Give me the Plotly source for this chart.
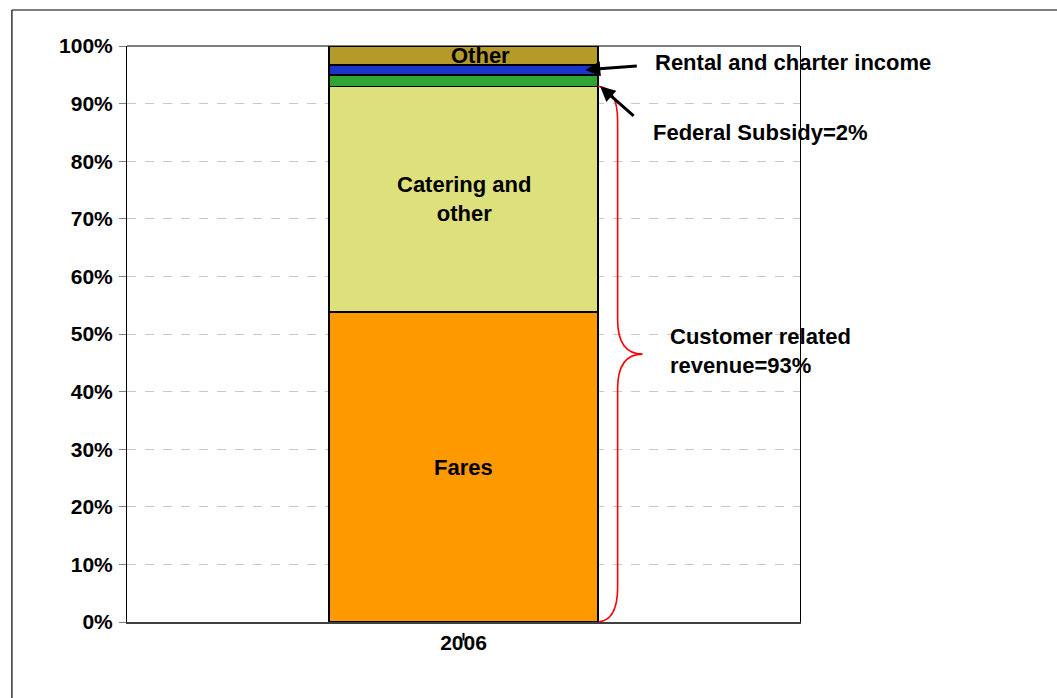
import plotly.graph_objects as go

# Revenue mix for 2006, shares of total revenue (%)
years = ["2006"]
segments = ["Fares", "Catering and other", "Federal Subsidy", "Rental and charter income", "Other"]
shares = [53.8, 39.2, 2.0, 1.7, 3.3]
colors = ["#FF9900", "#DDE07B", "#30A534", "#1B35C8", "#B49A28"]
y_ticks = [0, 10, 20, 30, 40, 50, 60, 70, 80, 90, 100]
y_tick_labels = [f"{v}%" for v in y_ticks]

FONT = "Liberation Sans, Arial, sans-serif"
TICK_FONT = dict(family=FONT, size=21, color="black", weight="bold")
LABEL_FONT = dict(family=FONT, size=22, color="black", weight="bold")

fig = go.Figure()
for name, val, col in zip(segments, shares, colors):
    fig.add_trace(go.Bar(
        x=years, y=[val], name=name, width=0.4,
        marker=dict(color=col, line=dict(color="black", width=1.5)),
        hoverinfo="name+y",
    ))

# cumulative boundaries of the stack
cum = [0]
for v in shares:
    cum.append(cum[-1] + v)
customer = cum[2]  # fares + catering

annotations = [
    dict(x=0.025, y=(cum[4] + cum[5]) / 2, xref="x", yref="y", text="Other",
         showarrow=False, font=LABEL_FONT),
    dict(x=0, y=(cum[1] + cum[2]) / 2, xref="x", yref="y",
         text="Catering and<br>other", showarrow=False, font=LABEL_FONT),
    dict(x=0, y=cum[1] / 2, xref="x", yref="y", text="Fares",
         showarrow=False, font=LABEL_FONT),
    # arrows
    dict(x=0.181, y=(cum[3] + cum[4]) / 2, xref="x", yref="y", text="",
         showarrow=True, ax=53, ay=-4, arrowhead=2, arrowsize=1,
         arrowwidth=3, arrowcolor="black"),
    dict(x=0.203, y=customer, xref="x", yref="y", text="",
         showarrow=True, ax=35, ay=31, arrowhead=2, arrowsize=1,
         arrowwidth=3, arrowcolor="black"),
    # callout labels
    dict(x=0.7816, y=97.2, xref="paper", yref="y", text="Rental and charter income",
         showarrow=False, xanchor="left", font=LABEL_FONT),
    dict(x=0.7786, y=84.9, xref="paper", yref="y", text="Federal Subsidy=2%",
         showarrow=False, xanchor="left", font=LABEL_FONT),
    dict(x=0.804, y=47.0, xref="paper", yref="y",
         text="Customer related<br>revenue=93%", align="left",
         showarrow=False, xanchor="left", font=LABEL_FONT),
]

# curly brace spanning the customer-related segments
x0, x1, x2 = 0.700, 0.729, 0.766
r = 6.0
ym = customer / 2
brace = (
    f"M {x0},0 Q {x1},0.3 {x1},{r} "
    f"L {x1},{ym - r} Q {x1},{ym} {x2},{ym} "
    f"Q {x1},{ym} {x1},{ym + r} "
    f"L {x1},{customer - r} Q {x1},{customer - 0.3} {x0},{customer}"
)

shapes = [
    dict(type="path", path=brace, xref="paper", yref="y",
         line=dict(color="red", width=1.6)),
    # top edge of the plot area
    dict(type="line", xref="paper", yref="paper", x0=0, x1=1, y0=1, y1=1,
         line=dict(color="black", width=1)),
    # outer chart frame (left and top edges)
    dict(type="line", xref="paper", yref="paper", x0=-0.171, x1=-0.171,
         y0=-0.2, y1=1.0625, line=dict(color="black", width=1.2)),
    dict(type="line", xref="paper", yref="paper", x0=-0.171, x1=1.5,
         y0=1.0625, y1=1.0625, line=dict(color="black", width=1.2)),
    # category tick
    dict(type="line", xref="paper", yref="paper", x0=0.5, x1=0.5,
         y0=-0.019, y1=-0.032, line=dict(color="black", width=2)),
]

fig.update_layout(
    barmode="stack",
    width=1057, height=698,
    margin=dict(l=127, r=257, t=46, b=76),
    paper_bgcolor="white", plot_bgcolor="white",
    showlegend=False,
    font=dict(family=FONT, size=21, color="black"),
    annotations=annotations,
    shapes=shapes,
    xaxis=dict(
        type="category", range=[-0.5, 0.5],
        showline=True, linecolor="#404040", linewidth=2,
        ticks="", showgrid=False,
        tickfont=TICK_FONT, ticklabelstandoff=1,
    ),
    yaxis=dict(
        range=[0, 100], tickvals=y_ticks, ticktext=y_tick_labels,
        showline=True, linecolor="black", linewidth=1, mirror=True,
        ticks="outside", ticklen=7, tickcolor="#808080", tickwidth=1,
        showgrid=True, gridcolor="#C8C8C8", griddash="dash", gridwidth=1,
        zeroline=False, tickfont=TICK_FONT, ticklabelstandoff=2,
    ),
)

fig.write_html("out.html")
